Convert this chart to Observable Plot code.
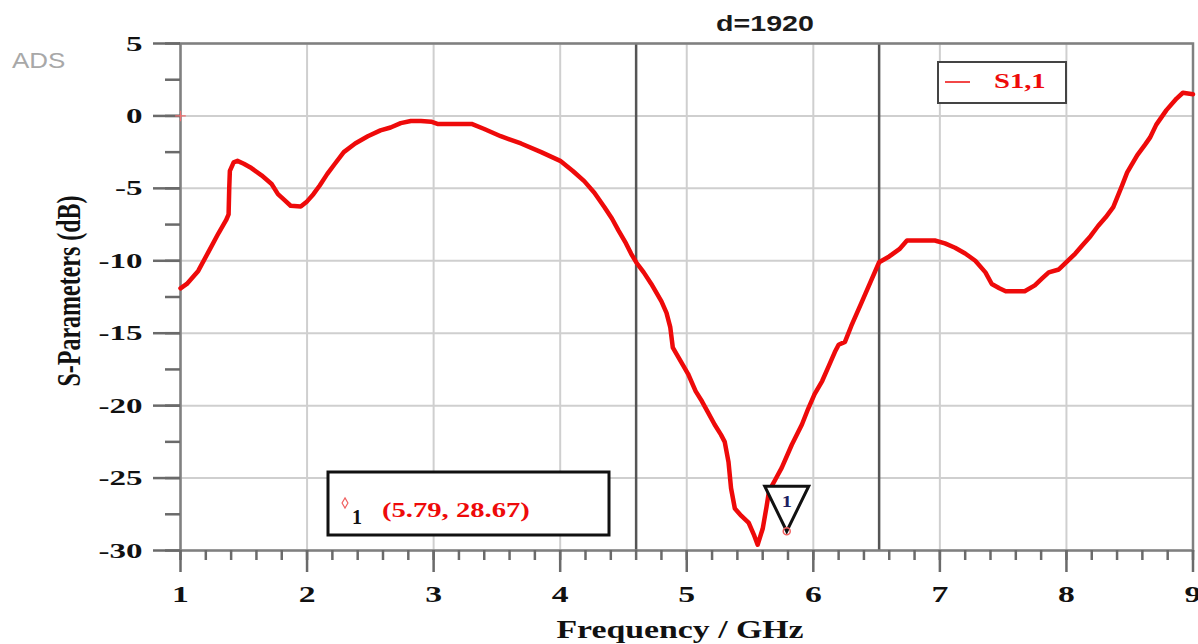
<!DOCTYPE html>
<html>
<head>
<meta charset="utf-8">
<script src="https://cdn.jsdelivr.net/npm/d3@7"></script>
<script src="https://cdn.jsdelivr.net/npm/@observablehq/plot@0.6"></script>
<style>
  html, body { margin: 0; padding: 0; background: #fff; }
  #chart { width: 1198px; height: 644px; overflow: hidden; }
  #chart svg { display: block; }
</style>
</head>
<body>
<div id="chart"></div>
<script>
// Return loss S1,1 of the antenna, d = 1920
const freqGHz = [
  1.00, 1.05, 1.14, 1.22, 1.30, 1.36, 1.38, 1.385, 1.39, 1.42,
  1.45, 1.50, 1.56, 1.64, 1.72, 1.77, 1.82, 1.87, 1.95, 2.00,
  2.05, 2.10, 2.16, 2.22, 2.29, 2.38, 2.48, 2.58, 2.66, 2.74,
  2.82, 2.90, 2.98, 3.03, 3.15, 3.30, 3.40, 3.53, 3.69, 3.85,
  4.00, 4.10, 4.19, 4.27, 4.35, 4.41, 4.46, 4.52, 4.56, 4.60,
  4.66, 4.72, 4.80, 4.84, 4.87, 4.89, 4.93, 4.97, 5.01, 5.07,
  5.12, 5.17, 5.22, 5.27, 5.30, 5.33, 5.35, 5.38, 5.43, 5.49,
  5.53, 5.56, 5.60, 5.63, 5.65, 5.70, 5.75, 5.83, 5.91, 5.96,
  6.01, 6.07, 6.12, 6.17, 6.20, 6.25, 6.30, 6.38, 6.46, 6.52,
  6.60, 6.68, 6.74, 6.85, 6.96, 7.04, 7.12, 7.20, 7.28, 7.36,
  7.41, 7.47, 7.52, 7.60, 7.67, 7.75, 7.81, 7.86, 7.94, 8.01,
  8.07, 8.13, 8.19, 8.25, 8.31, 8.37, 8.44, 8.48, 8.56, 8.62,
  8.66, 8.71, 8.79, 8.87, 8.92, 9.00
];
const s11dB = [
  -11.9, -11.6, -10.7, -9.4, -8.1, -7.2, -6.8, -5.0, -3.8, -3.2,
  -3.1, -3.3, -3.6, -4.1, -4.7, -5.4, -5.8, -6.2, -6.25, -5.9,
  -5.4, -4.8, -4.0, -3.3, -2.5, -1.9, -1.4, -1.0, -0.8, -0.5,
  -0.35, -0.35, -0.4, -0.55, -0.55, -0.55, -0.9, -1.4, -1.9, -2.5,
  -3.1, -3.8, -4.5, -5.3, -6.3, -7.1, -7.9, -8.8, -9.5, -10.1,
  -10.8, -11.6, -12.8, -13.6, -14.6, -16.0, -16.6, -17.2, -17.8, -19.0,
  -19.7, -20.5, -21.3, -22.0, -22.5, -23.9, -25.7, -27.1, -27.6, -28.1,
  -28.9, -29.6, -28.5, -27.0, -25.9, -25.1, -24.3, -22.7, -21.3, -20.2,
  -19.2, -18.3, -17.3, -16.3, -15.8, -15.6, -14.5, -12.9, -11.3, -10.1,
  -9.7, -9.2, -8.6, -8.6, -8.6, -8.8, -9.1, -9.5, -10.0, -10.8,
  -11.6, -11.9, -12.1, -12.1, -12.1, -11.7, -11.2, -10.8, -10.6, -10.0,
  -9.5, -8.9, -8.3, -7.6, -7.0, -6.3, -4.8, -3.9, -2.7, -2.0,
  -1.5, -0.6, 0.4, 1.2, 1.6, 1.5
];

const seriesName = ["S1,1"];
const titleText = ["d=1920"];

// Marker 1 readout
const markerName = ["1"];
const markerFreq = [5.79];
const markerDb = [-28.67];

// -10 dB band edges
const bandEdgesGHz = [4.6, 6.52];

// Axis ticks
const xMajor = [1, 2, 3, 4, 5, 6, 7, 8, 9];
const xMinor = d3.range(10, 91, 2).map(d => d / 10);
const yMajor = [5, 0, -5, -10, -15, -20, -25, -30];
const yMinor = d3.range(-30, 5.01, 2.5);

const curve = freqGHz.map((f, i) => ({ f, db: s11dB[i] }));
const markers = markerName.map((name, i) => ({ name, f: markerFreq[i], db: markerDb[i] }));

const RED = "#ee0a0a";
const SERIF = "'Liberation Serif', 'Times New Roman', serif";
const SANS = "'Liberation Sans', Arial, sans-serif";
const AXIS = "#6a6a6a";

// Inverted triangle whose apex sits on the marked point
const downTriangle = {
  draw(ctx) {
    ctx.moveTo(0, 0);
    ctx.lineTo(-22, -45);
    ctx.lineTo(22, -45);
    ctx.closePath();
  }
};

const plot = Plot.plot({
  width: 1198,
  height: 644,
  marginLeft: 180,
  marginRight: 5.5,
  marginTop: 43,
  marginBottom: 94,
  style: { background: "#fff", fontFamily: SERIF, color: "#111" },
  x: { domain: [1, 9] },
  y: { domain: [-30, 5] },
  marks: [
    Plot.gridX(xMajor, { stroke: "#cfcfcf", strokeOpacity: 1, strokeWidth: 2 }),
    Plot.gridY(yMajor, { stroke: "#cfcfcf", strokeOpacity: 1, strokeWidth: 2 }),
    Plot.ruleX(bandEdgesGHz, { stroke: "#555", strokeWidth: 2.5 }),
    Plot.frame({ stroke: "#808080", strokeWidth: 2.5 }),
    Plot.axisX(xMinor, { tickSize: 10, fill: "none", label: null, stroke: AXIS, strokeWidth: 2.5 }),
    Plot.axisX(xMajor, {
      tickSize: 22, tickPadding: 12, label: null, stroke: AXIS, strokeWidth: 2.5,
      tickFormat: d => String(d), fontSize: 24, fontWeight: "bold", fill: "#111", fontFamily: SERIF
    }),
    Plot.axisY(yMinor, { tickSize: 15, fill: "none", label: null, stroke: AXIS, strokeWidth: 2.5 }),
    Plot.axisY(yMajor, {
      tickSize: 27, tickPadding: 11, label: null, stroke: AXIS, strokeWidth: 2.5,
      tickFormat: d => String(d), fontSize: 22, fontWeight: "bold", fill: "#111", fontFamily: SERIF
    }),
    Plot.line(curve, {
      x: "f", y: "db", stroke: RED, strokeWidth: 4.5,
      strokeLinejoin: "round", strokeLinecap: "round"
    }),
    Plot.dot([{ f: 1, db: 0 }], { x: "f", y: "db", symbol: "plus", r: 3.5, stroke: "#f07070", strokeWidth: 1.2 }),
    Plot.dot(markers, { x: "f", y: "db", symbol: downTriangle, fill: "#fff", stroke: "#111", strokeWidth: 3 }),
    Plot.dot(markers, { x: "f", y: "db", r: 3.5, stroke: "#f06060", strokeWidth: 1.5, fill: "none" }),
    Plot.text(markers, {
      x: "f", y: "db", text: "name", dy: -30, fill: "#1c2060",
      fontSize: 17, fontWeight: "bold", fontFamily: SERIF
    })
  ]
});

document.getElementById("chart").append(plot);

// Widen glyphs horizontally, keeping the anchor in place
function widen(node, k) {
  const w = node.getComputedTextLength();
  if (w > 0) {
    node.setAttribute("textLength", (w * k).toFixed(1));
    node.setAttribute("lengthAdjust", "spacingAndGlyphs");
  }
}

const svg = d3.select(plot);
svg.selectAll("text").each(function () {
  const size = parseFloat(d3.select(this).attr("font-size") || getComputedStyle(this).fontSize);
  widen(this, size >= 24 ? 1.4 : (size >= 20 ? 1.5 : 1.2));
});

function addText(parent, str, x, y, opts) {
  const t = parent.append("text")
    .attr("x", x).attr("y", y)
    .attr("font-family", opts.family || SERIF)
    .attr("font-size", opts.size)
    .attr("font-weight", opts.weight || "bold")
    .attr("fill", opts.fill || "#111")
    .attr("text-anchor", opts.anchor || "start")
    .text(str);
  if (opts.k) widen(t.node(), opts.k);
  return t;
}

// Title and tool tag
addText(svg, titleText[0], 765, 31, { family: SANS, size: 22, anchor: "middle", k: 1.3, fill: "#1a1a1a" });
addText(svg, "ADS", 12, 68, { family: SANS, size: 22, weight: "normal", fill: "#a8a8a8", k: 1.18 });

// Axis titles
addText(svg, "Frequency / GHz", 680, 638, { size: 26, anchor: "middle", k: 1.3 });
svg.append("text")
  .attr("transform", "translate(80,291) rotate(-90) scale(1,1.4)")
  .attr("font-family", SERIF).attr("font-size", 24).attr("font-weight", "bold")
  .attr("fill", "#111").attr("text-anchor", "middle")
  .text("S-Parameters (dB)");

// Series legend
const legend = svg.append("g");
legend.append("rect").attr("x", 938).attr("y", 62).attr("width", 128).attr("height", 41)
  .attr("fill", "#fff").attr("stroke", "#444").attr("stroke-width", 2);
legend.append("line").attr("x1", 945).attr("x2", 970).attr("y1", 82).attr("y2", 82)
  .attr("stroke", RED).attr("stroke-width", 1.5);
addText(legend, seriesName[0], 994, 88, { size: 22, fill: RED, k: 1.3 });

// Marker readout
const readout = svg.append("g");
readout.append("rect").attr("x", 328).attr("y", 472).attr("width", 281).attr("height", 63)
  .attr("fill", "#fff").attr("stroke", "#111").attr("stroke-width", 3);
readout.append("path")
  .attr("d", d3.symbol(d3.symbolDiamond, 30)())
  .attr("transform", "translate(345,503)")
  .attr("fill", "none").attr("stroke", "#f06060").attr("stroke-width", 1.2);
markers.forEach((m, i) => {
  addText(readout, m.name, 352, 524 + i * 30, { size: 20 });
  addText(readout, `(${m.f.toFixed(2)}, ${Math.abs(m.db).toFixed(2)})`, 382, 517 + i * 30,
    { size: 22, fill: RED, k: 1.3 });
});
</script>
</body>
</html>
